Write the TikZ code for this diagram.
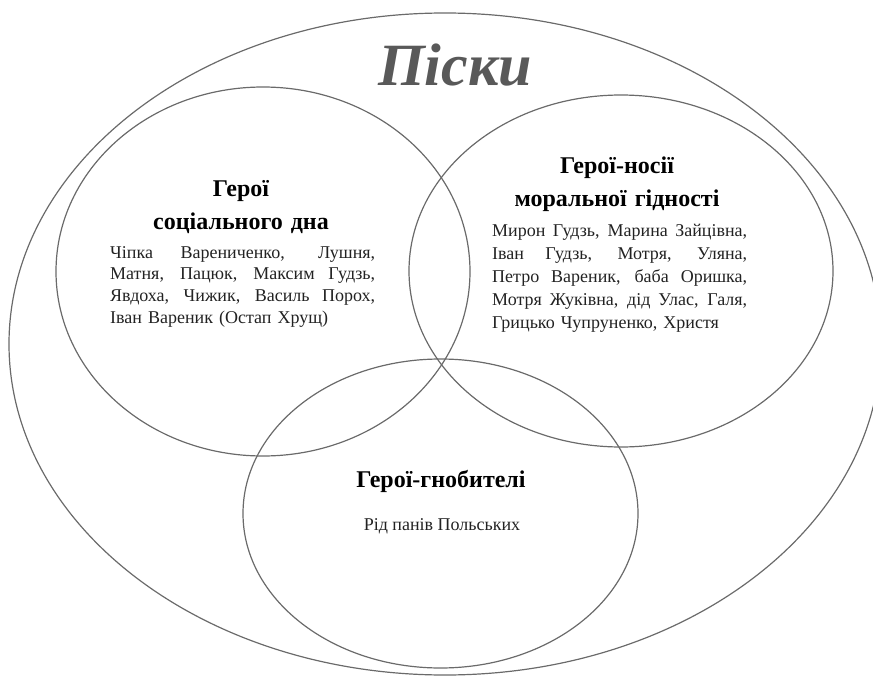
\documentclass[tikz,border=0pt]{standalone}
\usepackage{fontspec}
\setmainfont{Liberation Serif}
\definecolor{linegray}{HTML}{6A6A6A}
\definecolor{titlegray}{HTML}{595959}
\definecolor{namegray}{HTML}{222222}
\newcommand{\spreadline}[2]{\leavevmode\hbox to #1{\spaceskip=0pt\xspaceskip=0pt #2}\\}

\begin{document}
\begin{tikzpicture}[x=1pt, y=-1pt,
    set/.style={draw=linegray, line width=1.2pt},
    title/.style={font=\fontsize{60}{60}\selectfont\bfseries\itshape, text=titlegray,
      anchor=base, inner sep=0pt},
    heading/.style={font=\fontsize{24}{33}\selectfont\bfseries, text width=260pt,
      align=center, anchor=base, inner sep=0pt},
    names/.style={font=\fontsize{18}{21.7}\selectfont, text=namegray, align=left,
      anchor=base west, inner sep=0pt}
  ]
  \useasboundingbox (0,0) rectangle (873,677);

  % sets
  \coordinate (piski) at (445,344);
  \coordinate (social) at (263,271.5);
  \coordinate (moral) at (621,271);
  \coordinate (oppr) at (440.5,513.5);
  \draw[set] (piski) ellipse [x radius=436, y radius=331];
  \draw[set] (social) ellipse [x radius=207, y radius=184.5];
  \draw[set] (moral) ellipse [x radius=212, y radius=176];
  \draw[set] (oppr) ellipse [x radius=197.5, y radius=154.5];

  \node[title] (piskiname) at (455,85) {Піски};

  % social bottom
  \node[heading] (socialhead) at (241,196) {Герої\\соціального дна};
  \node[names, text width=265pt] (sociallist) at (110,258) {%
    \spreadline{265pt}{Чіпка Варениченко, Лушня,}
    \spreadline{265pt}{Матня, Пацюк, Максим Гудзь,}
    \spreadline{265pt}{Явдоха, Чижик, Василь Порох,}
    Іван Вареник (Остап Хрущ)};

  % moral dignity
  \node[heading] (moralhead) at (617,173) {Герої-носії\\моральної гідності};
  \node[names, text width=255pt, font=\fontsize{18}{23}\selectfont] (morallist) at (492,236) {%
    \spreadline{255pt}{Мирон Гудзь, Марина Зайцівна,}
    \spreadline{255pt}{Іван Гудзь, Мотря, Уляна,}
    \spreadline{255pt}{Петро Вареник, баба Оришка,}
    \spreadline{255pt}{Мотря Жуківна, дід Улас, Галя,}
    Грицько Чупруненко, Христя};

  % oppressors
  \node[heading] (opprhead) at (441,487) {Герої-гнобителі};
  \node[names, anchor=base] (opprlist) at (442,530) {Рід панів Польських};
\end{tikzpicture}
\end{document}
